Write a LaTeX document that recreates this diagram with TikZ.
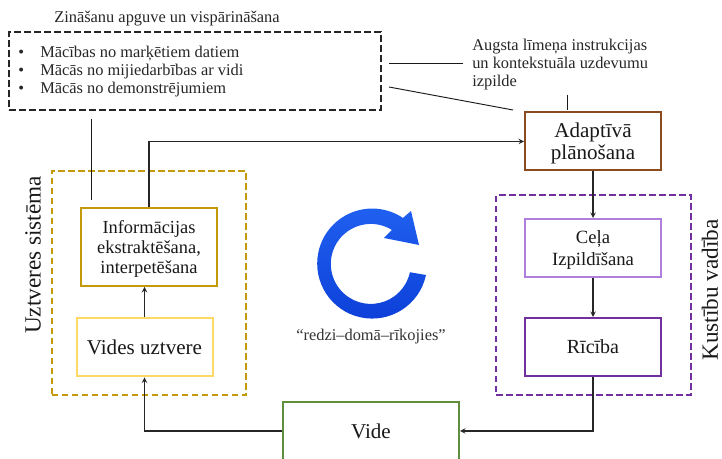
\documentclass[tikz,border=0pt]{standalone}
\usepackage{fontspec}
\setmainfont{Liberation Serif}
\usetikzlibrary{arrows}

\definecolor{zeltains}{HTML}{C49A0A}
\definecolor{dzeltens}{HTML}{FFD966}
\definecolor{bruns}{HTML}{8A4B1E}
\definecolor{violets}{HTML}{7030A0}
\definecolor{gaisviolets}{HTML}{B07FDD}
\definecolor{zals}{HTML}{5F8F3E}
\definecolor{zilstop}{HTML}{2060F0}
\definecolor{zilsbot}{HTML}{0C3FD8}

\begin{document}
\begin{tikzpicture}[> = stealth, x = 0.75pt, y = -0.75pt]
    \tikzstyle{block}=[rectangle, draw, line width=1.5pt, fill=white, align=center, inner sep=0pt, minimum width=102pt, minimum height=43.5pt, font=\fontsize{15.8}{16.5}\selectfont, text=black!90]
    \tikzstyle{group}=[rectangle, draw, line width=1.5pt, dash pattern=on 5pt off 2.5pt, minimum width=146pt]
    \tikzstyle{small}=[inner sep=0pt, font=\fontsize{12.3}{13.2}\selectfont, text=black!85]
    \tikzstyle{side}=[inner sep=0pt, rotate=90, font=\fontsize{17.4}{20}\selectfont, text=black!90]
    \tikzstyle{conn}=[->, line width=0.8pt, black!85]
    \tikzstyle{plain}=[-, line width=0.7pt, black!90]

    \useasboundingbox (0,0) rectangle (722,459);
    \clip (0,0) rectangle (722,459);

    % Grupas
    \node[group, draw=black!85, minimum width=279pt, minimum height=58.5pt] (knowledge) at (195,71) {};
    \node[group, draw=zeltains, minimum height=168pt] (perception) at (149,283) {};
    \node[group, draw=violets, minimum height=150pt] (motion) at (593.5,295) {};

    % Teksti
    \node[small, anchor=west] (title) at (54,19) {Zināšanu apguve un vispārināšana};
    \node[small, anchor=west] (item1) at (18,54) {\makebox[16.5pt][l]{•}Mācības no marķētiem datiem};
    \node[small, anchor=west] (item2) at (18,72) {\makebox[16.5pt][l]{•}Mācās no mijiedarbības ar vidi};
    \node[small, anchor=west] (item3) at (18,89.5) {\makebox[16.5pt][l]{•}Mācās no demonstrējumiem};
    \node[small, anchor=west, align=left] (instr) at (472,64.5) {Augsta līmeņa instrukcijas\\un kontekstuāla uzdevumu\\izpilde};
    \node[small, text=black!80] (motto) at (371,337) {“redzi–domā–rīkojies”};
    \node[side] (perclabel) at (33,255) {Uztveres sistēma};
    \node[side] (motlabel) at (710,290) {Kustību vadība};

    % Bloki
    \node[block, draw=bruns] (adapt) at (593,141.5) {\rule{0pt}{14pt}Adaptīvā\\plānošana};
    \node[block, draw=gaisviolets, font=\fontsize{14}{16}\selectfont] (path) at (593,248) {\rule{0pt}{12.5pt}Ceļa\\Izpildīšana};
    \node[block, draw=violets, font=\fontsize{15}{16.5}\selectfont] (action) at (593,347) {Rīcība};
    \node[block, draw=zeltains, minimum height=58.5pt, font=\fontsize{13.8}{15}\selectfont] (info) at (149,247) {\rule{0pt}{12.5pt}Informācijas\\ekstraktēšana,\\interpetēšana};
    \node[block, draw=dzeltens] (sensing) at (144.5,347.5) {Vides uztvere};
    \node[block, draw=zals, minimum width=132pt] (env) at (371,431) {Vide};

    % Aplis
    \shade[top color=zilstop, bottom color=zilsbot]
        (426,275) arc[start angle=12, end angle=304, radius=55]
        -- (411,211) -- (419,245) -- (384,238) -- (392,230)
        arc[start angle=302, end angle=12, radius=40] -- cycle;

    % Brīvie gali
    \coordinate (a1) at (389,63.5);
    \coordinate (a2) at (463,63.5);
    \coordinate (b1) at (389,87);
    \coordinate (b2) at (513,110);
    \coordinate (c1) at (567.5,95);
    \coordinate (c2) at (567.5,110);
    \coordinate (d1) at (91.5,119);
    \coordinate (d2) at (91.5,200);

    % Savienojumi
    \draw[plain] (a1) -- (a2);
    \draw[plain] (b1) -- (b2);
    \draw[plain] (c1) -- (c2);
    \draw[plain] (d1) -- (d2);
    \draw[conn] (info.north) |- (adapt.west);
    \draw[conn] (adapt.south) -- (path.north);
    \draw[conn] (path.south) -- (action.north);
    \draw[conn] (action.south) |- (env.east);
    \draw[conn] (env.west) -| (sensing.south);
    \draw[conn] (sensing.north) -- (sensing.north |- info.south);
\end{tikzpicture}
\end{document}
